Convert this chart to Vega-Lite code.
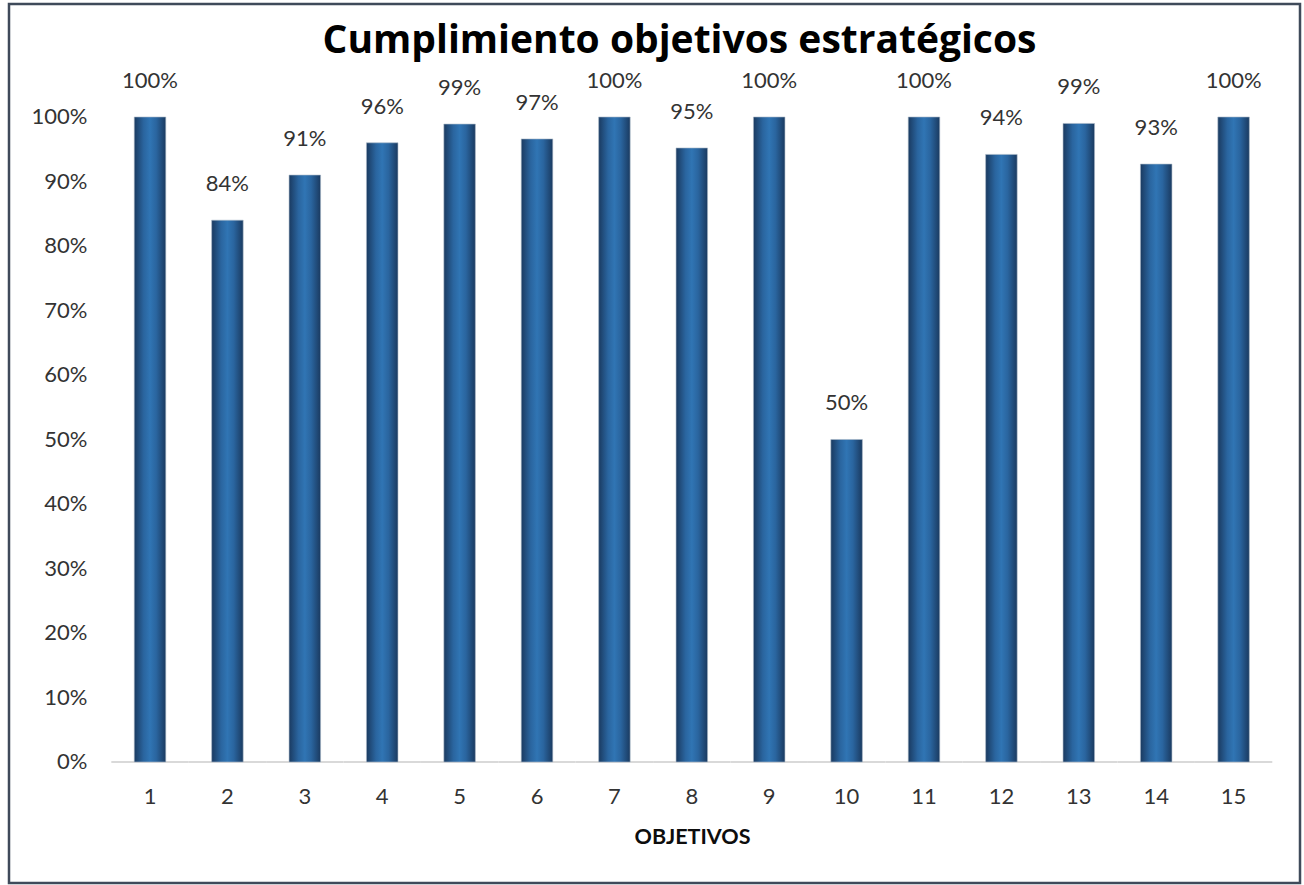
{
  "$schema": "https://vega.github.io/schema/vega-lite/v6.json",
  "width": 1291,
  "height": 879,
  "autosize": {"type": "none"},
  "padding": {"left": 9, "top": 4, "right": 4, "bottom": 2},
  "background": "white",
  "config": {
    "view": {"stroke": "#3f4a5a", "strokeWidth": 2.5, "fill": "white"},
    "font": "Lato"
  },
  "title": {
    "text": "Cumplimiento objetivos estratégicos",
    "font": "Open Sans",
    "fontSize": 39,
    "fontWeight": "bold",
    "color": "#000000",
    "anchor": "middle",
    "frame": "group",
    "offset": -88,
    "baseline": "alphabetic",
    "dx": 25
  },
  "data": {
    "values": [
      {"objetivo": 1, "cumplimiento": 1.0},
      {"objetivo": 2, "cumplimiento": 0.84},
      {"objetivo": 3, "cumplimiento": 0.91},
      {"objetivo": 4, "cumplimiento": 0.96},
      {"objetivo": 5, "cumplimiento": 0.989},
      {"objetivo": 6, "cumplimiento": 0.966},
      {"objetivo": 7, "cumplimiento": 1.0},
      {"objetivo": 8, "cumplimiento": 0.952},
      {"objetivo": 9, "cumplimiento": 1.0},
      {"objetivo": 10, "cumplimiento": 0.5},
      {"objetivo": 11, "cumplimiento": 1.0},
      {"objetivo": 12, "cumplimiento": 0.942},
      {"objetivo": 13, "cumplimiento": 0.99},
      {"objetivo": 14, "cumplimiento": 0.927},
      {"objetivo": 15, "cumplimiento": 1.0}
    ]
  },
  "encoding": {
    "x": {
      "field": "objetivo",
      "type": "ordinal",
      "scale": {"paddingInner": 0.32, "paddingOuter": 1.0, "align": 0.741},
      "axis": {
        "title": "OBJETIVOS",
        "labelAngle": 0,
        "domain": false,
        "ticks": false,
        "grid": false,
        "offset": -121,
        "labelPadding": 24,
        "labelFont": "Lato",
        "labelFontSize": 22,
        "labelColor": "#333333",
        "titleFont": "Lato",
        "titleFontSize": 21.5,
        "titleFontWeight": "bold",
        "titleColor": "#0d0d0d",
        "titleX": 683,
        "titleY": 81,
        "titleBaseline": "alphabetic"
      }
    },
    "y": {
      "field": "cumplimiento",
      "type": "quantitative",
      "scale": {"domain": [-0.1876, 1.17519], "nice": false, "zero": false},
      "axis": {
        "title": null,
        "values": [0, 0.1, 0.2, 0.3, 0.4, 0.5, 0.6, 0.7, 0.8, 0.9, 1.0],
        "format": ".0%",
        "domain": false,
        "ticks": false,
        "grid": false,
        "offset": -101,
        "labelPadding": 23,
        "labelFont": "Lato",
        "labelFontSize": 22,
        "labelColor": "#333333"
      }
    }
  },
  "layer": [
    {
      "mark": {"type": "tick", "size": 77.4, "thickness": 2, "color": "#d9d9d9", "opacity": 1},
      "encoding": {"y": {"datum": 0, "type": "quantitative"}}
    },
    {
      "mark": {
        "type": "bar",
        "width": {"band": 0.599},
        "stroke": "#a9b8c8",
        "strokeWidth": 0.6,
        "color": {
          "gradient": "linear",
          "x1": 0, "y1": 0, "x2": 1, "y2": 0,
          "stops": [
            {"offset": 0, "color": "#1a3a60"},
            {"offset": 0.3, "color": "#2a659f"},
            {"offset": 0.5, "color": "#3075b4"},
            {"offset": 0.7, "color": "#2a659f"},
            {"offset": 1, "color": "#1a3a60"}
          ]
        }
      },
      "encoding": {"y2": {"datum": 0}}
    },
    {
      "mark": {
        "type": "text",
        "dy": -29,
        "baseline": "alphabetic",
        "font": "Lato",
        "fontSize": 22,
        "color": "#333333"
      },
      "encoding": {
        "text": {"field": "cumplimiento", "type": "quantitative", "format": ".0%"}
      }
    }
  ]
}
